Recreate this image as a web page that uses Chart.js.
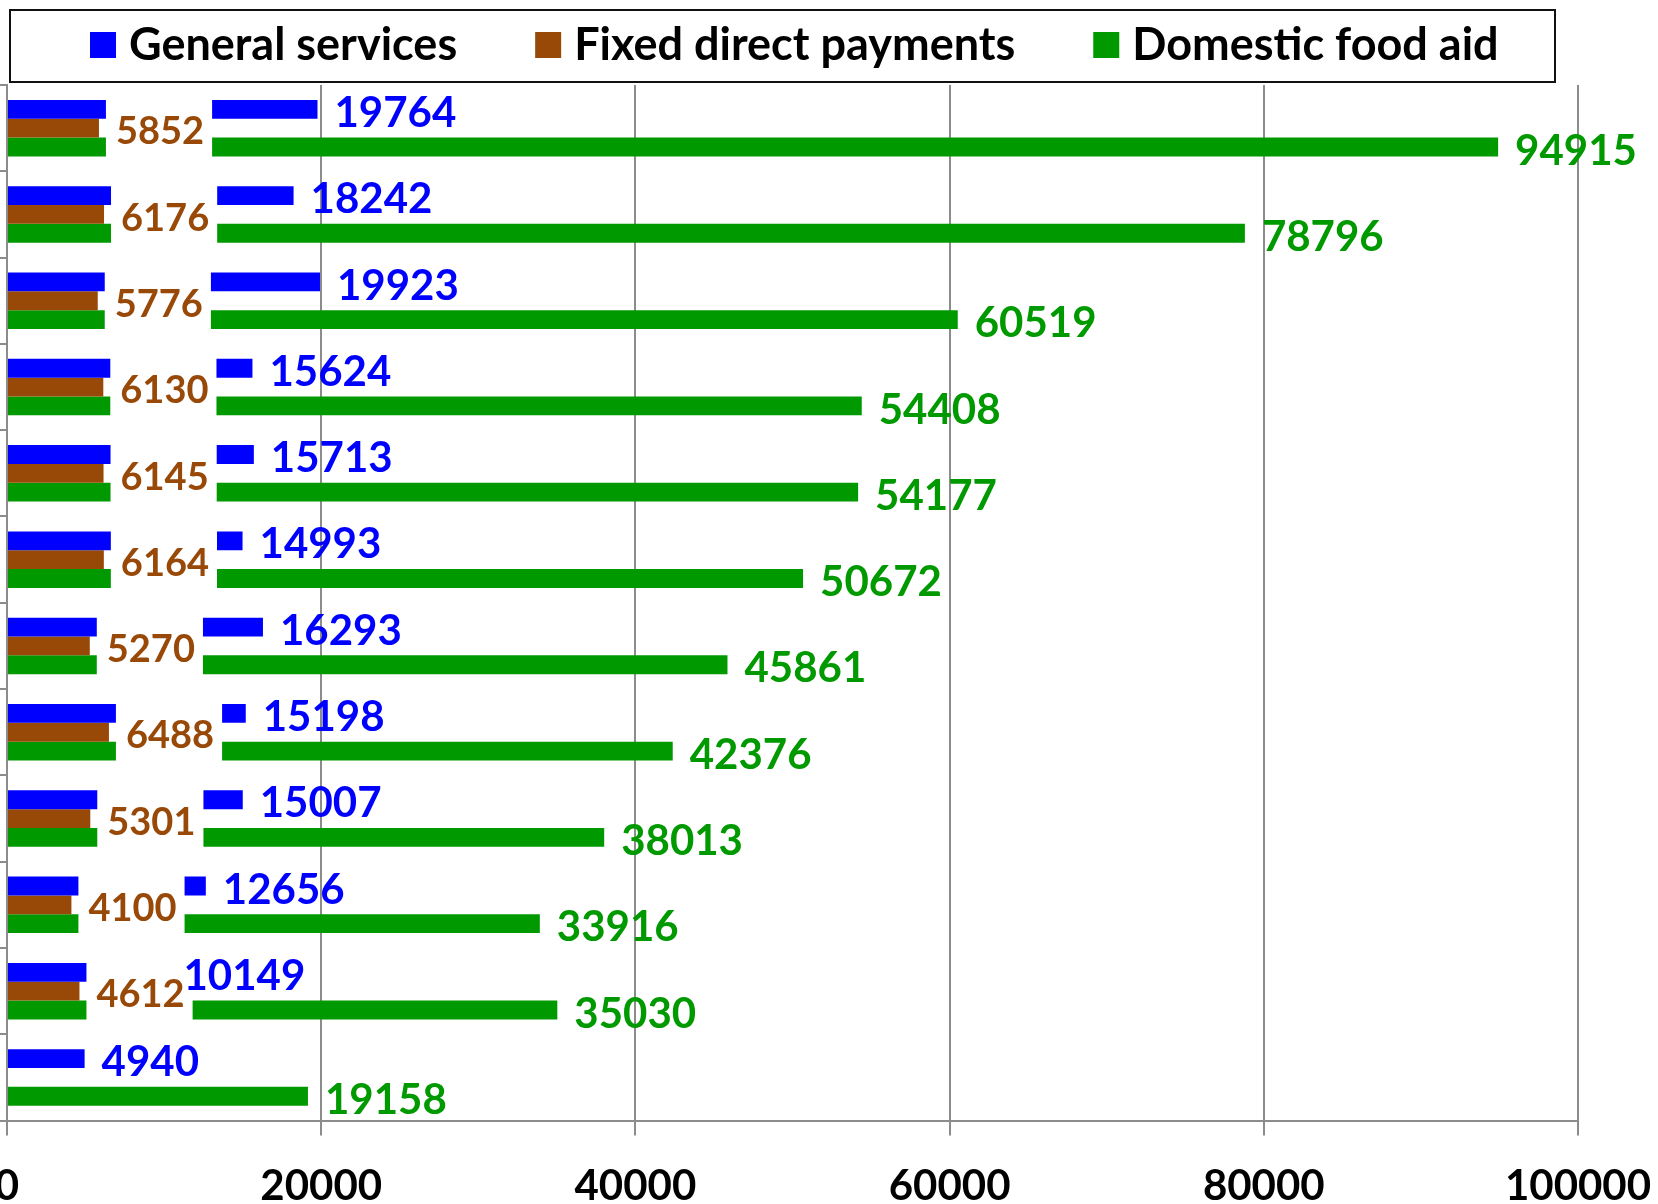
<!DOCTYPE html>
<html lang="en">
<head>
<meta charset="UTF-8">
<title>General services, fixed direct payments and domestic food aid</title>
<script src="https://cdn.jsdelivr.net/npm/chart.js"></script>
<style>
  html, body { margin: 0; padding: 0; background: #fff; }
  #wrap { width: 1658px; height: 1204px; overflow: hidden; }
</style>
</head>
<body>
<!-- canvas runs a little below the frame so the tick labels sit low like the original -->
<div id="wrap"><canvas id="spendChart" width="1658" height="1238"></canvas></div>

<script>
  // rows top to bottom (row labels are not shown on the axis)
  const rows = ['r1', 'r2', 'r3', 'r4', 'r5', 'r6', 'r7', 'r8', 'r9', 'r10', 'r11', 'r12'];
  const generalServices = [19764, 18242, 19923, 15624, 15713, 14993, 16293, 15198, 15007, 12656, 10149, 4940];
  const fixedDirectPayments = [5852, 6176, 5776, 6130, 6145, 6164, 5270, 6488, 5301, 4100, 4612, null];
  const domesticFoodAid = [94915, 78796, 60519, 54408, 54177, 50672, 45861, 42376, 38013, 33916, 35030, 19158];
  const xTicks = [0, 20000, 40000, 60000, 80000, 100000];

  const FONT = 'Lato';
  const GRID = '#8c8c8c';

  // value label next to the end of every bar; the brown one gets a white patch
  const valueLabels = {
    id: 'valueLabels',
    afterDatasetsDraw(chart) {
      const ctx = chart.ctx;
      const gap = 17;
      ctx.save();
      ctx.textAlign = 'left';
      ctx.textBaseline = 'alphabetic';

      const mid = chart.getDatasetMeta(1);
      ctx.font = 'bold 38px ' + FONT;
      mid.data.forEach((bar, i) => {
        const v = chart.data.datasets[1].data[i];
        if (v == null) return;
        const p = bar.getProps(['x', 'y', 'height'], true);
        const w = ctx.measureText(String(v)).width;
        ctx.fillStyle = '#ffffff';
        ctx.fillRect(p.x + gap - 10, p.y - p.height * 1.5 - 1, w + 18, p.height * 3 + 2);
      });

      chart.data.datasets.forEach((ds, d) => {
        const size = d === 1 ? 38 : 42;
        ctx.font = 'bold ' + size + 'px ' + FONT;
        ctx.fillStyle = ds.labelColor;
        chart.getDatasetMeta(d).data.forEach((bar, i) => {
          const v = ds.data[i];
          if (v == null) return;
          const p = bar.getProps(['x', 'y'], true);
          ctx.fillText(String(v), p.x + gap, p.y + size * 0.36 + 2.5);
        });
      });
      ctx.restore();
    }
  };

  // framed legend row above the plot
  const framedLegend = {
    id: 'framedLegend',
    afterDraw(chart) {
      const ctx = chart.ctx;
      const area = chart.chartArea;
      const left = 10, top = 10, right = area.right - 23, bottom = area.top - 3;
      ctx.save();
      ctx.fillStyle = '#ffffff';
      ctx.fillRect(left, top, right - left, bottom - top);
      ctx.strokeStyle = '#111111';
      ctx.lineWidth = 2;
      ctx.strokeRect(left, top, right - left, bottom - top);

      ctx.font = 'bold 45px ' + FONT;
      ctx.textBaseline = 'alphabetic';
      const box = 26, boxGap = 13, itemGap = 78;
      let x = left + 80;
      const cy = 45;
      chart.data.datasets.forEach(ds => {
        ctx.fillStyle = ds.backgroundColor;
        ctx.fillRect(x, cy - box / 2, box, box);
        x += box + boxGap;
        ctx.fillStyle = '#000000';
        ctx.fillText(ds.label, x, cy + 15);
        x += ctx.measureText(ds.label).width + itemGap;
      });
      ctx.restore();
    }
  };

  function draw() {
    const ctx = document.getElementById('spendChart').getContext('2d');
    new Chart(ctx, {
      type: 'bar',
      data: {
        labels: rows,
        datasets: [
          { label: 'General services', data: generalServices, backgroundColor: '#0000ff', labelColor: '#0000ff' },
          { label: 'Fixed direct payments', data: fixedDirectPayments, backgroundColor: '#984807', labelColor: '#984807' },
          { label: 'Domestic food aid', data: domesticFoodAid, backgroundColor: '#009900', labelColor: '#009900' }
        ]
      },
      options: {
        indexAxis: 'y',
        responsive: false,
        animation: false,
        categoryPercentage: 0.655,
        barPercentage: 1,
        layout: { padding: { top: 85, right: 80, bottom: 0, left: 0 } },
        plugins: {
          legend: { display: false },
          tooltip: { enabled: false }
        },
        scales: {
          x: {
            type: 'linear',
            min: 0,
            max: 100000,
            afterBuildTicks: (scale) => { scale.ticks = xTicks.map(v => ({ value: v })); },
            afterFit: (scale) => { scale.paddingLeft = 0; scale.paddingRight = 0; },
            ticks: {
              color: '#000000',
              font: { family: FONT, size: 42, weight: 'bold' },
              padding: 26,
              maxRotation: 0,
              autoSkip: false,
              callback: (v) => String(v)
            },
            grid: { color: GRID, lineWidth: 2, tickLength: 15 },
            border: { color: GRID, width: 2 }
          },
          y: {
            ticks: { display: false },
            grid: { offset: true, drawOnChartArea: false, color: GRID, lineWidth: 2, tickLength: 7 },
            border: { color: GRID, width: 2 }
          }
        }
      },
      plugins: [valueLabels, framedLegend]
    });
  }

  document.fonts.load('bold 42px Lato').then(draw, draw);
</script>
</body>
</html>
